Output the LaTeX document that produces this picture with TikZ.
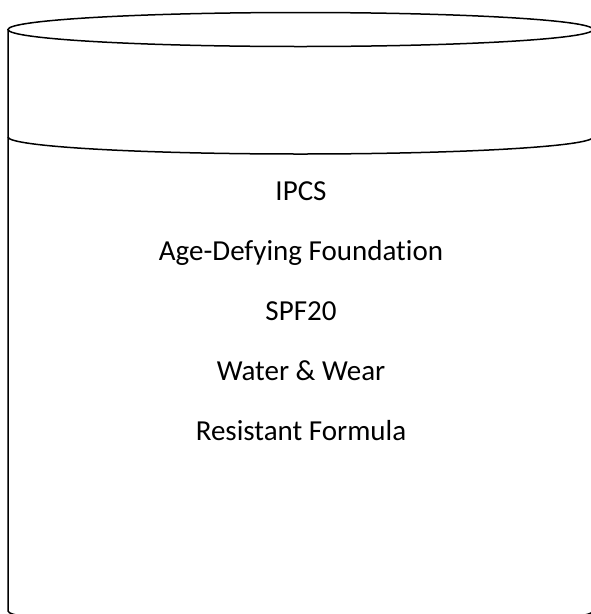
\documentclass[tikz,border=0pt]{standalone}
\usepackage{fontspec}
\setmainfont{Carlito}[Ligatures=CommonOff]
\begin{document}
\begin{tikzpicture}[x=1pt,y=-1pt,line width=1.5pt,
lbl/.style={anchor=base,inner sep=0pt,font=\fontsize{29}{35}\selectfont}]
\useasboundingbox(0,0)rectangle(591,614);
\clip(0,0)rectangle(591,614);
% cylinder
\draw(300.5,29.5)ellipse[x radius=292.5,y radius=17];
\draw(8,137)arc[start angle=180,end angle=0,x radius=292.5,y radius=17];
\draw(8,29.5)--(8,611)arc[start angle=180,end angle=0,x radius=292.5,y radius=17]--(593,29.5);
% labels
\node[lbl](ipcs)at(301,200){IPCS};
\node[lbl](agedef)at(301,260){Age-Defying Foundation};
\node[lbl](spf)at(301,320){SPF20};
\node[lbl](water)at(301,380){Water \& Wear};
\node[lbl](resist)at(301,440){Resistant Formula};
\end{tikzpicture}
\end{document}
